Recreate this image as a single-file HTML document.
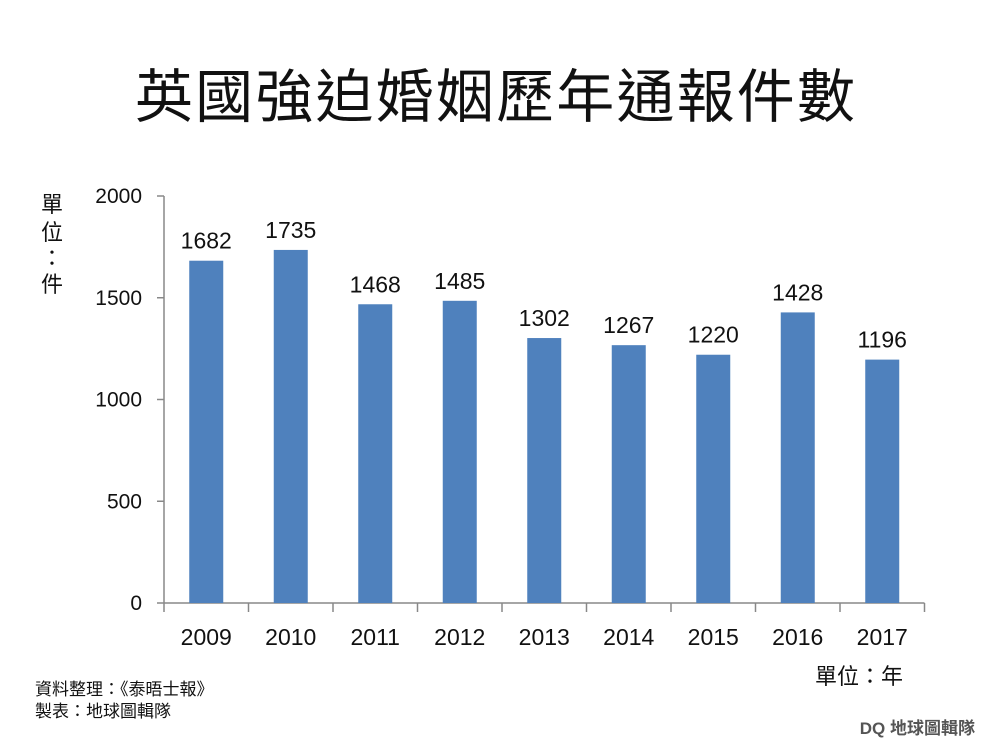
<!DOCTYPE html>
<html><head><meta charset="utf-8"><style>
body{margin:0;background:#fff;}
svg text{font-family:"Liberation Sans","Noto Sans CJK TC",sans-serif;}
</style></head><body>
<svg width="990" height="742">
<text x="495" y="117" text-anchor="middle" font-size="58" textLength="720" fill="#111">英國強迫婚姻歷年通報件數</text>
<text x="52" y="212" text-anchor="middle" font-size="22" fill="#111"><tspan x="52" dy="0">單</tspan><tspan x="52" dy="28">位</tspan><tspan x="52" dy="26">：</tspan><tspan x="52" dy="26">件</tspan></text>
<g id="axes"></g>
<g id="bars"></g>
<text x="903" y="684" text-anchor="end" font-size="22" fill="#111">單位：年</text>
<text x="35" y="695" font-size="17" fill="#111">資料整理：《泰晤士報》</text>
<text x="35" y="717" font-size="17" fill="#111">製表：地球圖輯隊</text>
<text x="975" y="734" text-anchor="end" font-size="17" font-weight="bold" fill="#555">DQ 地球圖輯隊</text>
</svg>
<script>
const categories=["2009","2010","2011","2012","2013","2014","2015","2016","2017"];
const values=[1682,1735,1468,1485,1302,1267,1220,1428,1196];
const yTicks=[0,500,1000,1500,2000];
const NS="http://www.w3.org/2000/svg";
const x0=164,band=84.5,y0=603,ymax=2000,ph=407;
function yScale(v){return y0-v/ymax*ph;}
function xScale(i){return x0+i*band;}
function mk(tag,attrs,parent){const e=document.createElementNS(NS,tag);for(const k in attrs)e.setAttribute(k,attrs[k]);parent.appendChild(e);return e;}
const axes=document.getElementById('axes'),bars=document.getElementById('bars');
let a=mk('line',{x1:x0,y1:yScale(ymax),x2:x0,y2:y0,stroke:'#888','stroke-width':1.5},axes);


let b=mk('line',{x1:x0,y1:y0,x2:xScale(categories.length),y2:y0,stroke:'#888','stroke-width':1.5},axes);


yTicks.forEach(t=>{
 mk('line',{x1:x0-7,x2:x0,y1:yScale(t),y2:yScale(t),stroke:'#888','stroke-width':1.5},axes);
 const tx=mk('text',{x:x0-22,y:yScale(t)+7,'text-anchor':'end','font-size':21,fill:'#111'},axes);
 tx.textContent=t;
 
 
});
for(let i=0;i<=categories.length;i++){mk('line',{x1:xScale(i),x2:xScale(i),y1:y0,y2:y0+9,stroke:'#888','stroke-width':1.5},axes);}
categories.forEach((c,i)=>{
 const cx=xScale(i)+band/2;
 const r=mk('rect',{x:cx-17,y:yScale(values[i]),width:34,height:y0-yScale(values[i]),fill:'#4f81bd'},bars);
 
 
 const v=mk('text',{x:cx,y:yScale(values[i])-12,'text-anchor':'middle','font-size':23,fill:'#111'},bars);
 v.textContent=values[i];
 
 
 const l=mk('text',{x:cx,y:645,'text-anchor':'middle','font-size':23,fill:'#111'},axes);
 l.textContent=c;
 
 
});
</script>
</body></html>
